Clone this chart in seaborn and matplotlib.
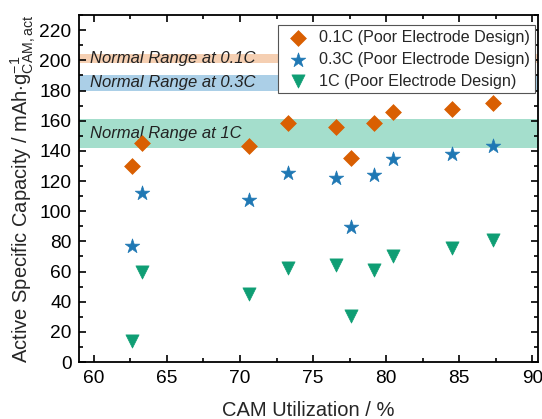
import matplotlib
matplotlib.use("Agg")
import matplotlib.pyplot as plt
import seaborn as sns
import pandas as pd
from matplotlib.ticker import MultipleLocator

sns.set_theme(style="ticks")
plt.rcParams['font.family'] = ['Liberation Sans', 'DejaVu Sans']
plt.rcParams['mathtext.fontset'] = 'custom'
plt.rcParams['mathtext.rm'] = 'Liberation Sans'
plt.rcParams['mathtext.it'] = 'Liberation Sans:italic'
plt.rcParams['mathtext.bf'] = 'Liberation Sans:bold'

util = [62.6, 63.3, 70.6, 73.3, 76.55, 77.6, 79.2, 80.5, 84.5, 87.3]
cap_01C = [130, 145, 143.5, 158.5, 156, 135.5, 158.5, 166, 167.5, 172]
cap_03C = [77, 112, 107.5, 125, 122, 89.5, 124, 134.5, 138, 143]
cap_1C = [14, 60, 45, 62, 64.5, 30.5, 61, 70, 75.5, 81]

series_names = ["0.1C (Poor Electrode Design)", "0.3C (Poor Electrode Design)", "1C (Poor Electrode Design)"]
band_labels = ["Normal Range at 0.1C", "Normal Range at 0.3C", "Normal Range at 1C"]
band_low = [198, 180, 142]
band_high = [204, 190, 161]

colors = ["#d95f02", "#1f78b4", "#0f9e74"]
band_colors = ["#f2bf98", "#8fc0e0", "#86d3bb"]
markers = ["D", "*", "v"]
sizes = [65, 120, 90]

fig, ax = plt.subplots(figsize=(5.42, 4.19), dpi=100)
fig.subplots_adjust(left=0.146, right=0.993, bottom=0.136, top=0.964)

for lo, hi, c, lab in zip(band_low, band_high, band_colors, band_labels):
    ax.axhspan(lo, hi, color=c, alpha=0.75, lw=0, zorder=0)
    ax.text(59.72, (lo + hi) / 2, lab, style='italic', fontsize=12,
            va='center', ha='left', color='#222222', zorder=1)

for vals, name, c, m, s in zip([cap_01C, cap_03C, cap_1C], series_names, colors, markers, sizes):
    df = pd.DataFrame({"x": util, "y": vals})
    sns.scatterplot(data=df, x="x", y="y", ax=ax, marker=m, s=s, color=c,
                    edgecolor=c, linewidth=0.5, label=name, zorder=3)

ax.set_xlim(59, 90.4)
ax.set_ylim(0, 230)
ax.xaxis.set_major_locator(MultipleLocator(5))
ax.xaxis.set_minor_locator(MultipleLocator(2.5))
ax.yaxis.set_major_locator(MultipleLocator(20))
ax.yaxis.set_minor_locator(MultipleLocator(10))
ax.tick_params(which='both', direction='in', top=True, right=True, labeltop=False, labelright=False, width=1.2, colors='black')
ax.tick_params(which='major', length=5, labelsize=13.8, pad=5.5)
ax.tick_params(which='minor', length=3)
for sp in ax.spines.values():
    sp.set_linewidth(1.3)
    sp.set_color('black')

ax.set_xlabel("CAM Utilization / %", fontsize=14.5, labelpad=10)
ax.set_ylabel(r"Active Specific Capacity / mAh$\cdot$g$^{-1}_{\mathrm{CAM,act}}$", fontsize=14.5, labelpad=1)

leg = ax.legend(loc='upper right', fontsize=11.6, frameon=True, fancybox=False,
                edgecolor='#555555', framealpha=1, borderpad=0.3, handletextpad=0.45,
                handlelength=1.8, labelspacing=0.42, borderaxespad=0.2,
                bbox_to_anchor=(1.0, 0.98))
leg.get_frame().set_linewidth(0.8)

fig.savefig("out.png", dpi=100)
